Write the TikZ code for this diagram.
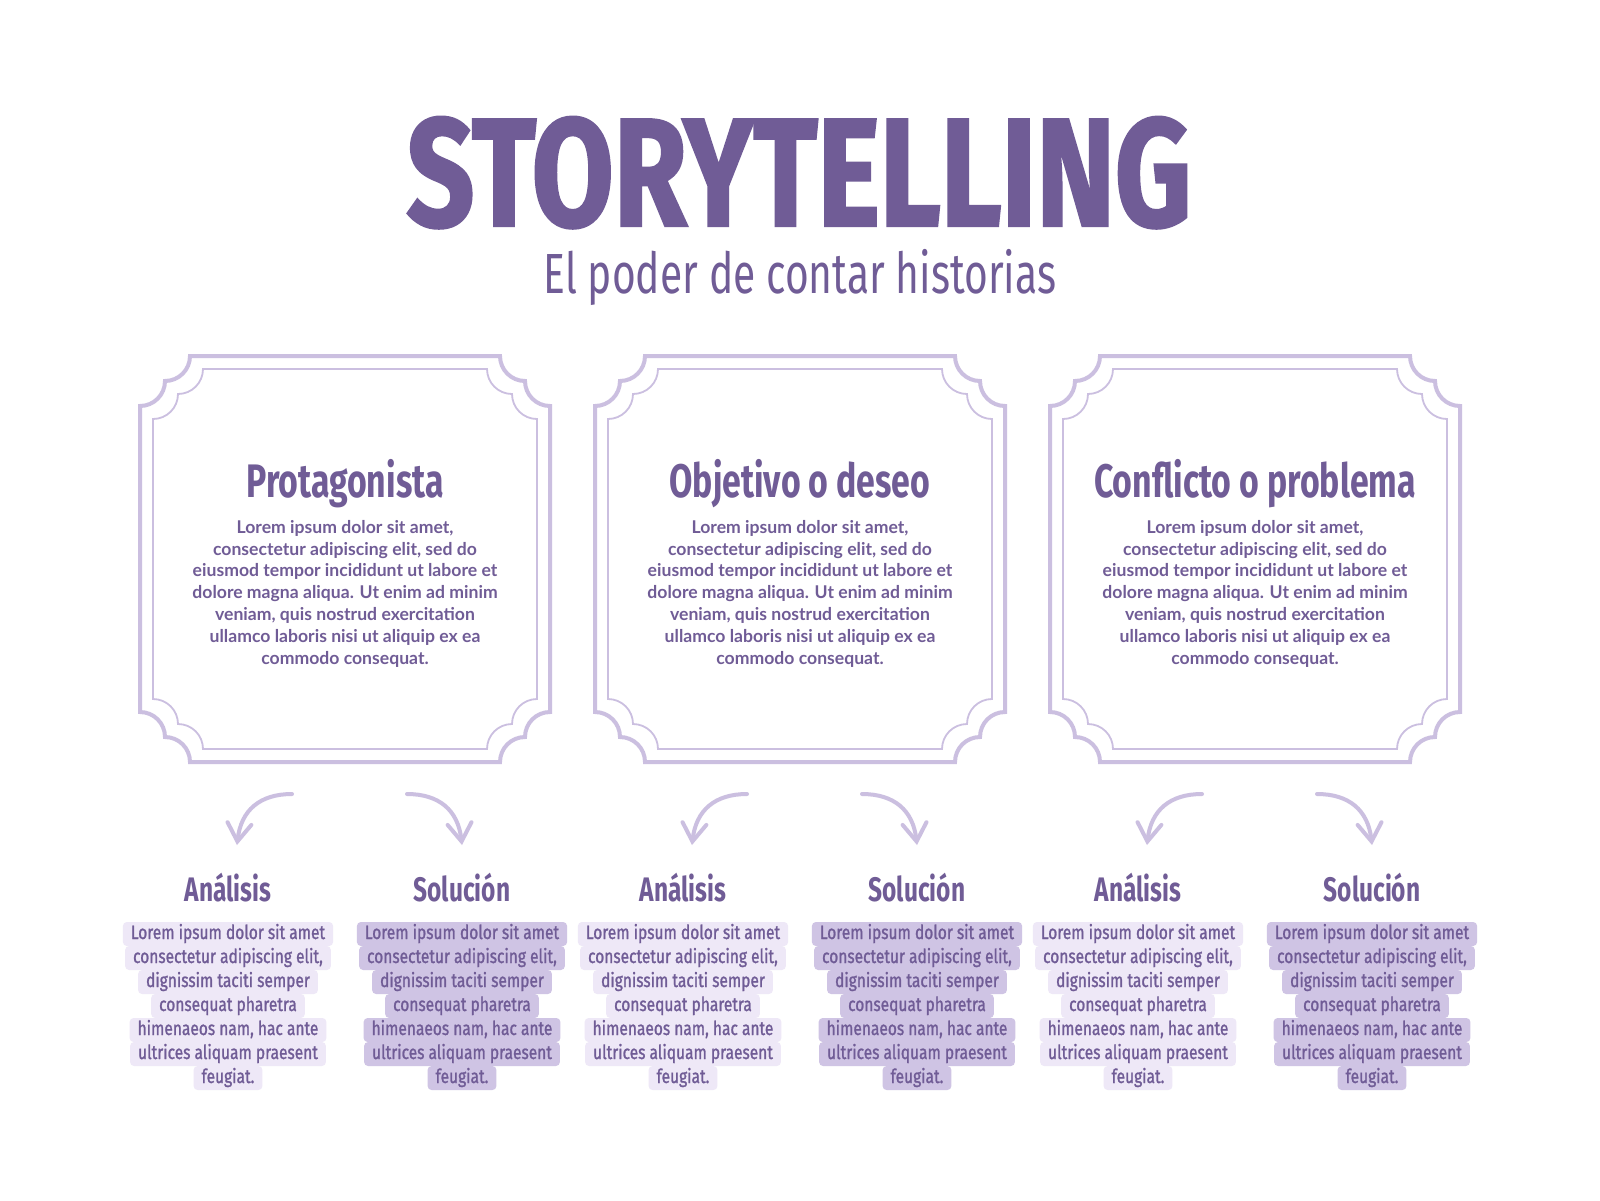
\documentclass[tikz,border=0pt]{standalone}
\usepackage{fontspec}
\setmainfont{Lato}
\newfontfamily\titlefont{Fira Sans}[FakeStretch=0.77,BoldFeatures={FakeBold=1.5}]
\newfontfamily\condfont{Fira Sans}[FakeStretch=0.72]
\newfontfamily\handfont{Fira Sans}[FakeStretch=0.8,FakeBold=1.2]
\usetikzlibrary{positioning,arrows.meta}
\definecolor{storyviolet}{HTML}{705C96}
\definecolor{framelilac}{HTML}{CBBFE0}
\definecolor{lightlilac}{HTML}{EEE8F7}
\definecolor{darklilac}{HTML}{CFC4E4}
% frame with stepped round corners: [style]{x0}{y0}{x1}{y1}
\newcommand{\scallopframe}[5][]{%
  \draw[#1] (#2+50,#3) -- (#4-50,#3)
    arc[start angle=180,end angle=90,radius=25]
    arc[start angle=180,end angle=90,radius=25]
    -- (#4,#5-50)
    arc[start angle=270,end angle=180,radius=25]
    arc[start angle=270,end angle=180,radius=25]
    -- (#2+50,#5)
    arc[start angle=360,end angle=270,radius=25]
    arc[start angle=360,end angle=270,radius=25]
    -- (#2,#3+50)
    arc[start angle=90,end angle=0,radius=25]
    arc[start angle=90,end angle=0,radius=25]
    -- cycle;}
\begin{document}
\begin{tikzpicture}[x=0.5pt, y=-0.5pt,
  outerline/.style={draw=framelilac, line width=2pt},
  innerline/.style={draw=framelilac, line width=0.9pt},
  flow/.style={draw=framelilac, line width=2pt, line cap=round,
    -{Straight Barb[length=9pt,width=12pt,line cap=round]}},
  heading/.style={font=\condfont\bfseries\fontsize{23.5}{26}\selectfont, text=storyviolet, inner sep=0pt},
  subhead/.style={font=\condfont\bfseries\fontsize{17}{20}\selectfont, text=storyviolet, inner sep=0pt},
  body/.style={font=\bfseries\fontsize{8.8}{10.9}\selectfont, text=storyviolet, align=center, inner sep=0pt},
  note/.style={font=\handfont\fontsize{9.7}{12}\selectfont, text=storyviolet, rounded corners=2pt,
    inner xsep=4pt, inner ysep=1.3pt, text height=7.2pt, text depth=2.2pt}]
 \fill[white] (0,0) rectangle (1600,1200);
 \useasboundingbox (0,0) rectangle (1600,1200);

 \node [font=\titlefont\bfseries\fontsize{77}{80}\selectfont, text=storyviolet, anchor=base,
   inner sep=0pt, text depth=0pt] (title) at (799,226) {STORYTELLING};
 \node [font=\condfont\fontsize{28.3}{30}\selectfont, text=storyviolet, anchor=base, inner sep=0pt]
   (subtitle) at (800,293) {El poder de contar historias};

 \foreach \cx/\name [count=\i] in {345/Protagonista, 800/Objetivo o deseo, 1255/Conflicto o problema} {
   \scallopframe[outerline]{\cx-205}{356}{\cx+205}{762}
   \scallopframe[innerline]{\cx-192}{369}{\cx+192}{749}
   \node [heading, anchor=base] (head\i) at (\cx,497) {\name};
   \node [body, below=6pt of head\i] (text\i) {Lorem ipsum dolor sit amet,\\
     consectetur adipiscing elit, sed do\\
     eiusmod tempor incididunt ut labore et\\
     dolore magna aliqua. Ut enim ad minim\\
     veniam, quis nostrud exercitation\\
     ullamco laboris nisi ut aliquip ex ea\\
     commodo consequat.};

   % arrows down to the two notes
   \coordinate (ls\i) at (\cx-53,794);
   \coordinate (le\i) at (\cx-108,845);
   \coordinate (rs\i) at (\cx+62,794);
   \coordinate (re\i) at (\cx+117,845);
   \draw [flow] (ls\i) .. controls (\cx-85,794) and (\cx-104,810) .. (le\i);
   \draw [flow] (rs\i) .. controls (\cx+94,794) and (\cx+113,810) .. (re\i);

   \node [subhead, anchor=base] (ana\i) at (\cx-117,901) {Análisis};
   \node [subhead, anchor=base] (sol\i) at (\cx+117,901) {Solución};
   \foreach \ln [count=\k] in {Lorem ipsum dolor sit amet, {consectetur adipiscing elit,},
       dignissim taciti semper, consequat pharetra, {himenaeos nam, hac ante},
       ultrices aliquam praesent, feugiat.} {
     \node [note, fill=lightlilac] (ana\i-\k) at (\cx-117,910+24*\k) {\ln};
     \node [note, fill=darklilac] (sol\i-\k) at (\cx+117,910+24*\k) {\ln};
   }
 }
\end{tikzpicture}
\end{document}
